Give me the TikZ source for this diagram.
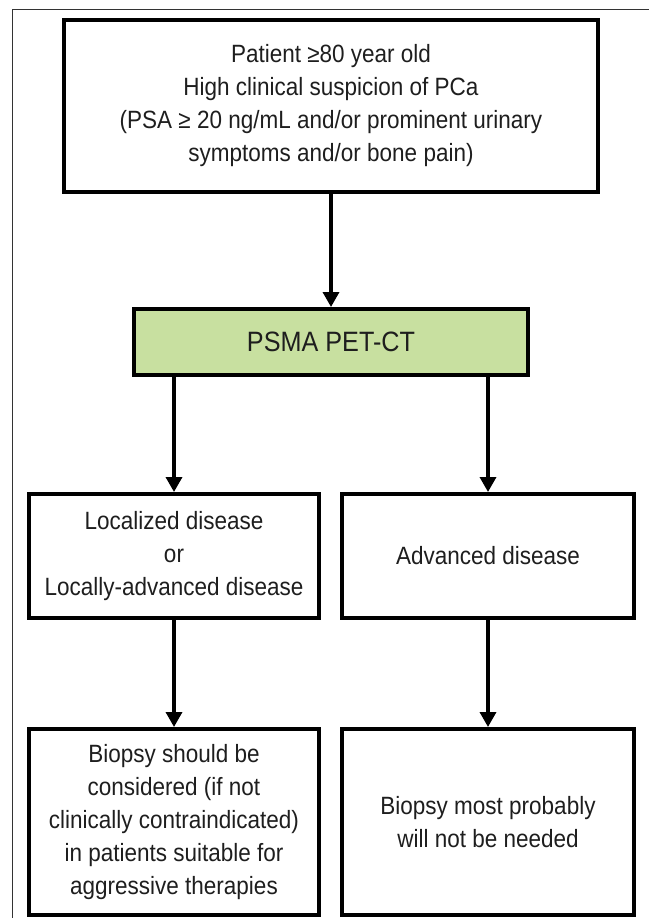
\documentclass[tikz,border=0pt]{standalone}
\usepackage{fontspec}
\setmainfont{Liberation Sans}[FakeStretch=0.9]
\usepackage{tikz}
\usetikzlibrary{arrows.meta,positioning}
\definecolor{petgreen}{RGB}{200,224,160}
\definecolor{txtgray}{RGB}{30,30,30}
\tikzset{
  box/.style={draw, line width=4pt, align=center, inner sep=0pt,
    text=txtgray, font=\fontsize{25}{33}\selectfont},
  arr/.style={line width=3.4pt, -{Triangle[length=15pt,width=16pt]}},
}

\begin{document}
\begin{tikzpicture}[x=1pt,y=-1pt]
  \useasboundingbox (0,0) rectangle (648,918);
  \draw[line width=1pt, black!80] (12,930) -- (12,9) -- (660,9);

  \node[box, minimum width=534pt, minimum height=172pt] (P) at (331,106)
    {Patient ≥80 year old\\ High clinical suspicion of PCa\\
     (PSA ≥ 20 ng/mL and/or prominent urinary\\ symptoms and/or bone pain)};
  \node[box, fill=petgreen, minimum width=394pt, minimum height=66pt,
    font=\fontsize{28}{33}\selectfont] (S) at (331,342) {PSMA PET-CT};
  \node[box, minimum width=290pt, minimum height=124pt] (L) at (174,556)
    {Localized disease\\ or\\ Locally-advanced disease};
  \node[box, minimum width=292pt, minimum height=124pt] (A) at (488,556)
    {Advanced disease};
  \node[box, minimum width=290pt, minimum height=186pt] (B) at (174,822)
    {Biopsy should be\\ considered (if not\\ clinically contraindicated)\\
     in patients suitable for\\ aggressive therapies};
  \node[box, minimum width=292pt, minimum height=186pt] (N) at (488,822)
    {Biopsy most probably\\ will not be needed};

  \draw[arr] (P) -- (S);
  \draw[arr] (L |- S.south) -- (L);
  \draw[arr] (A |- S.south) -- (A);
  \draw[arr] (L) -- (B);
  \draw[arr] (A) -- (N);
\end{tikzpicture}
\end{document}
